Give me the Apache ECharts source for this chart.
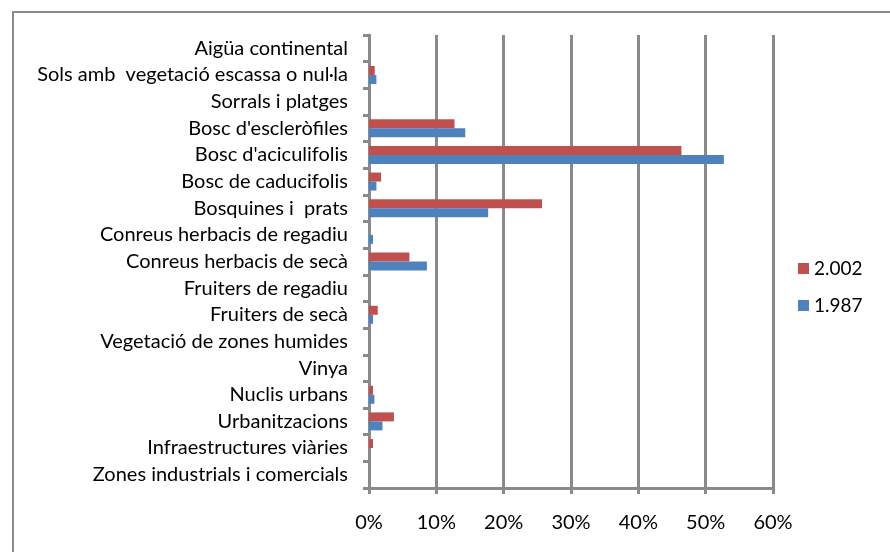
<!DOCTYPE html>
<html>
<head>
<meta charset="utf-8">
<script src="https://cdn.jsdelivr.net/npm/echarts@6/dist/echarts.min.js"></script>
<style>
  html, body { margin: 0; padding: 0; background: #fff; }
  #chart { width: 890px; height: 552px; }
</style>
</head>
<body>
<div id="chart"></div>
<script>
var categories = [
  'Aigüa continental',
  'Sols amb  vegetació escassa o nul·la',
  'Sorrals i platges',
  "Bosc d'escleròfiles",
  "Bosc d'aciculifolis",
  'Bosc de caducifolis',
  'Bosquines i  prats',
  'Conreus herbacis de regadiu',
  'Conreus herbacis de secà',
  'Fruiters de regadiu',
  'Fruiters de secà',
  'Vegetació de zones humides',
  'Vinya',
  'Nuclis urbans',
  'Urbanitzacions',
  'Infraestructures viàries',
  'Zones industrials i comercials'
];

// percentatge de superfície
var values2002 = [0, 0.85, 0, 12.7, 46.4, 1.8, 25.7, 0, 6.0, 0, 1.3, 0, 0, 0.6, 3.7, 0.6, 0];
var values1987 = [0, 1.1, 0, 14.3, 52.7, 1.1, 17.7, 0.6, 8.6, 0, 0.6, 0, 0, 0.8, 2.0, 0, 0];

var xTicks = [0, 10, 20, 30, 40, 50, 60];

var chart = echarts.init(document.getElementById('chart'));
var gray = '#8a8a8a';
var font = 'Lato';

chart.setOption({
  animation: false,
  textStyle: { fontFamily: font },
  graphic: [{
    type: 'rect',
    shape: { x: 13, y: 12, width: 900, height: 600 },
    style: { fill: null, stroke: gray, lineWidth: 2 },
    z: -1
  }],
  legend: {
    orient: 'vertical',
    left: 793,
    top: 254,
    itemWidth: 11,
    itemHeight: 11,
    itemGap: 18,
    icon: 'rect',
    textStyle: { fontSize: 19, color: '#000', fontFamily: font },
    data: ['2.002', '1.987']
  },
  grid: { left: 369, right: 117, top: 35, bottom: 64, containLabel: false },
  xAxis: {
    type: 'value',
    min: xTicks[0],
    max: xTicks[xTicks.length - 1],
    interval: 10,
    axisLine: { show: true, lineStyle: { color: gray, width: 3 } },
    axisTick: { show: true, length: 6, lineStyle: { color: gray, width: 3 } },
    splitLine: { show: true, lineStyle: { color: gray, width: 3 } },
    axisLabel: {
      formatter: '{value}%',
      color: '#000',
      fontSize: 20,
      margin: 25,
      fontFamily: font
    }
  },
  yAxis: {
    type: 'category',
    inverse: true,
    data: categories,
    axisLine: { show: true, lineStyle: { color: gray, width: 3 } },
    axisTick: { show: true, length: 6, lineStyle: { color: gray, width: 3 } },
    axisLabel: { color: '#000', fontSize: 20, margin: 21, fontFamily: font }
  },
  series: [
    {
      name: '2.002',
      type: 'bar',
      data: values2002,
      barWidth: 9,
      barGap: '0%',
      itemStyle: { color: '#C0504D' }
    },
    {
      name: '1.987',
      type: 'bar',
      data: values1987,
      barWidth: 9,
      barGap: '0%',
      itemStyle: { color: '#4F81BD' }
    }
  ]
});
</script>
</body>
</html>
